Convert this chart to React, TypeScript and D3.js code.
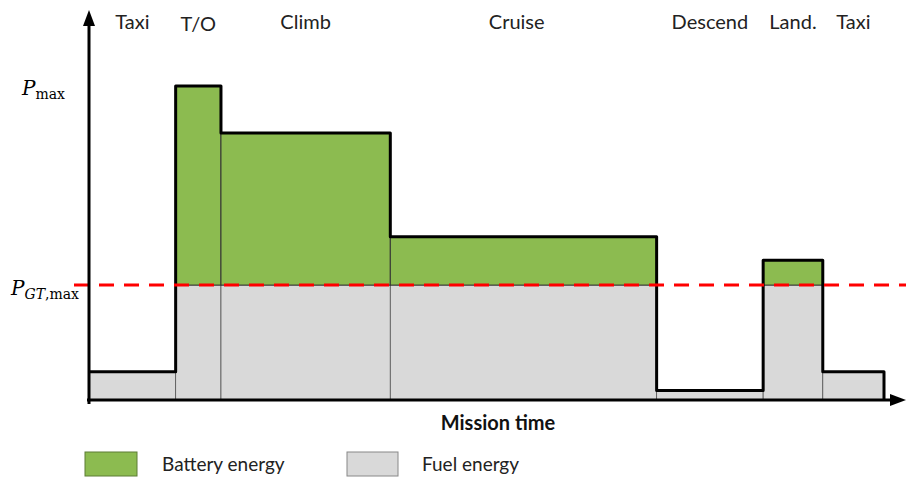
import React from 'react';
import * as d3 from 'd3';

// mission phases, end time of each (arbitrary time units) and power level (% of Pmax)
const phases = ['Taxi', 'T/O', 'Climb', 'Cruise', 'Descend', 'Land.', 'Taxi'];
const phaseEnds = [10.9, 16.6, 37.9, 71.4, 84.8, 92.3, 100];
const power = [9, 100, 85, 52, 3, 44.5, 9];
// label position in time units (phase midpoint, Cruise slightly left)
const labelTimes = [5.45, 13.75, 27.25, 53.8, 78.1, 88.55, 96.15];
const pgtMax = 36.6;
const pMax = 100;

const W = 906;
const H = 478;
const FONT = 'Lato, "Open Sans", sans-serif';
const GREEN = '#8cbb50';
const GREY = '#d9d9d9';

export default function App() {
  const x = d3.scaleLinear().domain([0, 100]).range([89, 884]);
  const y = d3.scaleLinear().domain([0, 100]).range([400, 86]);

  const segs = phases.map((name, i) => ({
    name,
    t0: i === 0 ? 0 : phaseEnds[i - 1],
    t1: phaseEnds[i],
    p: power[i],
    lt: labelTimes[i],
  }));

  // outer envelope of the power profile
  const pts: [number, number][] = [];
  segs.forEach(s => {
    pts.push([x(s.t0), y(s.p)]);
    pts.push([x(s.t1), y(s.p)]);
  });
  pts.push([x(100), y(0)]);
  const envelope = d3.line()(pts) as string;

  const x0 = x(0);
  const yBase = y(0);

  return (
    <div style={{ position: 'fixed', left: 0, top: 0 }}>
      <svg width={W} height={H} style={{ display: 'block', background: '#fff' }}>
        {/* fuel (gas turbine) share */}
        {segs.map((s, i) => {
          const fuel = Math.min(s.p, pgtMax);
          return (
            <rect
              key={'f' + i}
              x={x(s.t0)}
              y={y(fuel)}
              width={x(s.t1) - x(s.t0)}
              height={yBase - y(fuel)}
              fill={GREY}
              stroke="#555"
              strokeWidth={0.8}
            />
          );
        })}
        {/* battery share */}
        {segs
          .filter(s => s.p > pgtMax)
          .map((s, i) => (
            <rect
              key={'b' + i}
              x={x(s.t0)}
              y={y(s.p)}
              width={x(s.t1) - x(s.t0)}
              height={y(pgtMax) - y(s.p)}
              fill={GREEN}
              stroke="#333"
              strokeWidth={1}
            />
          ))}

        {/* envelope */}
        <path d={envelope} fill="none" stroke="#000" strokeWidth={3} strokeLinejoin="round" />

        {/* PGT,max limit */}
        <line
          x1={74}
          x2={W}
          y1={y(pgtMax)}
          y2={y(pgtMax)}
          stroke="#ff0000"
          strokeWidth={3}
          strokeDasharray="15,10"
        />

        {/* axes */}
        <line x1={x0} x2={x0} y1={yBase + 4} y2={22} stroke="#000" strokeWidth={3} />
        <polygon points={`${x0},10 ${x0 - 6},26 ${x0 + 6},26`} fill="#000" />
        <line x1={x0 - 2} x2={893} y1={yBase} y2={yBase} stroke="#000" strokeWidth={3} />
        <polygon points={`906,${yBase} 890,${yBase - 6} 890,${yBase + 6}`} fill="#000" />

        {/* phase labels */}
        {segs.map((s, i) => (
          <text
            key={'l' + i}
            x={x(s.lt)}
            y={s.name === 'T/O' ? 31 : 29}
            textAnchor="middle"
            fontFamily={FONT}
            fontSize={20}
            fill="#222"
          >
            {s.name}
          </text>
        ))}

        {/* y labels */}
        <text x={22} y={y(pMax) + 9} fontFamily='"DejaVu Serif", serif' fontSize={20} fill="#000">
          <tspan fontStyle="italic">P</tspan>
          <tspan fontSize={14} dy={4}>max</tspan>
        </text>
        <text x={11} y={y(pgtMax) + 10} fontFamily='"DejaVu Serif", serif' fontSize={20} fill="#000">
          <tspan fontStyle="italic">P</tspan>
          <tspan fontSize={14} dy={4} fontStyle="italic">GT</tspan>
          <tspan fontSize={14}>,max</tspan>
        </text>

        {/* x title */}
        <text x={498} y={430} textAnchor="middle" fontFamily={FONT} fontWeight="bold" fontSize={20} fill="#111">
          Mission time
        </text>

        {/* legend */}
        <rect x={85} y={452} width={52} height={24} fill={GREEN} stroke="#5d7d35" strokeWidth={1} />
        <text x={162} y={471} fontFamily={FONT} fontSize={19} fill="#222">Battery energy</text>
        <rect x={347} y={452} width={51} height={24} fill={GREY} stroke="#888" strokeWidth={1} />
        <text x={422} y={471} fontFamily={FONT} fontSize={19} fill="#222">Fuel energy</text>
      </svg>
    </div>
  );
}
